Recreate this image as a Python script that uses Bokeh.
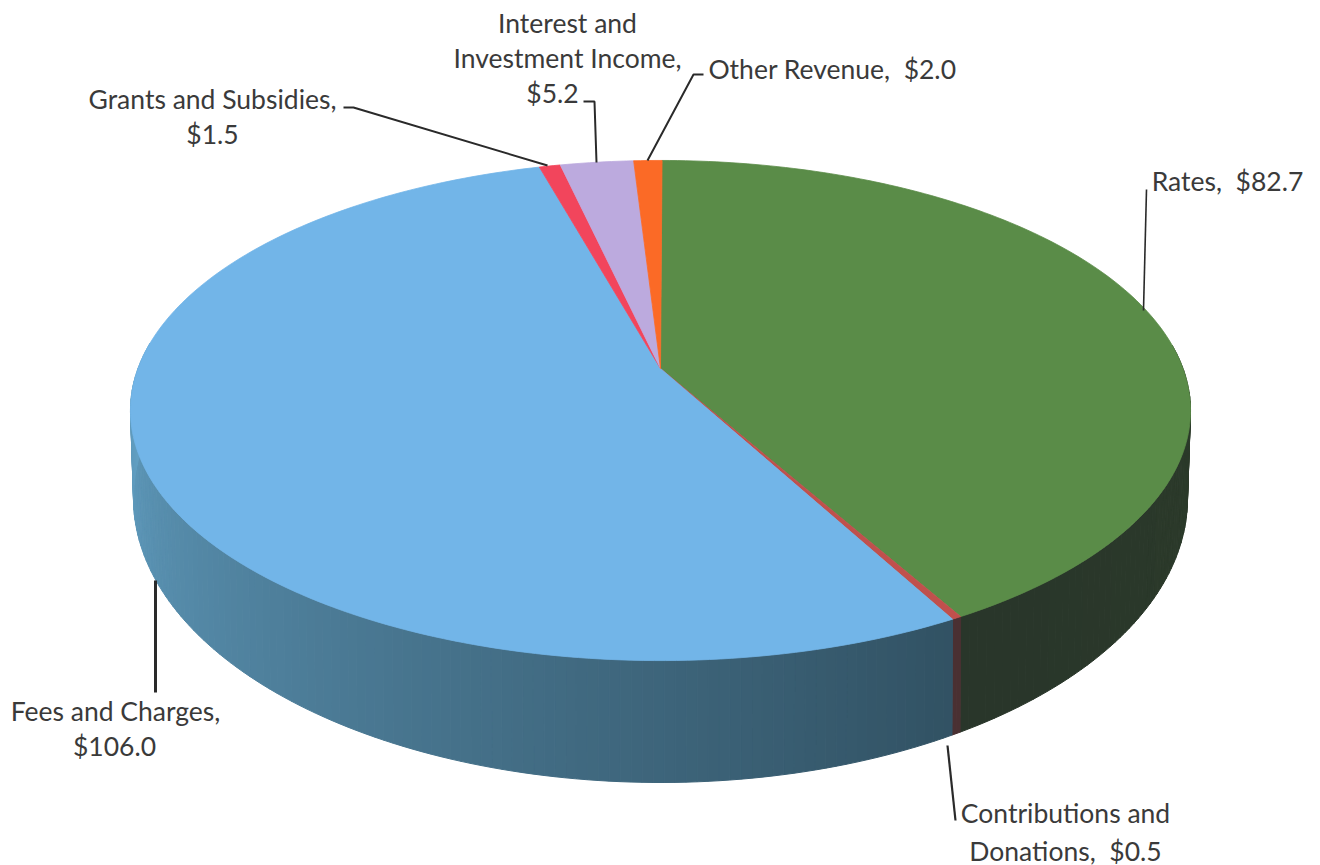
import numpy as np
from bokeh.embed import file_html
from bokeh.models import ColumnDataSource, Range1d
from bokeh.plotting import figure
from bokeh.resources import INLINE
from bokeh.core.properties import value

# Operating revenue by type, in millions, clockwise from twelve o'clock
categories = ["Rates", "Contributions and Donations", "Fees and Charges",
              "Grants and Subsidies", "Interest and Investment Income", "Other Revenue"]
amounts = [82.7, 0.5, 106.0, 1.5, 5.2, 2.0]
top_colours = ["#5a8c48", "#c0504d", "#72b5e8", "#f2455c", "#bcaade", "#fb6a26"]
side_light = ["#2d3c2b", "#5a3434", "#64a2c6", "#5a3434", "#5a3434", "#5a3434"]
side_dark = ["#29362a", "#4a3032", "#304f60", "#4a3032", "#4a3032", "#4a3032"]

W, H = 1320, 865
APEX_X, APEX_Y = 660.0, 368.0
KAPPA = 0.168
A_TOP, B_TOP = 522.5, 243.0
BOT_CX, BOT_CY, BOT_A, BOT_B = 660.0, 498.0, 527.0, 284.0
START_DEG = 0.2


def top_rim(deg, r=1.0):
    t = np.radians(deg)
    u, v = r * np.sin(t), r * np.cos(t)
    d = 1 + KAPPA * v
    return APEX_X + A_TOP * u / d, APEX_Y - B_TOP * v / d


def bottom_rim(deg):
    # same rim parameter as the top face, so side panels stay near-vertical
    x, y = top_rim(deg)
    phi = np.arctan2((x - BOT_CX) / BOT_A, -(y - 410.0) / 250.0)
    return BOT_CX + BOT_A * np.sin(phi), BOT_CY - BOT_B * np.cos(phi)


p = figure(width=W, height=H, output_backend="svg", toolbar_location=None,
           x_range=Range1d(0, W), y_range=Range1d(H, 0), min_border=0)
p.axis.visible = False
p.grid.visible = False
p.outline_line_color = None

fractions = np.array(amounts) / sum(amounts)
edges = START_DEG + np.concatenate([[0], np.cumsum(fractions) * 360])

# Outer wall: thin vertical strips along the front half of the rim
xs, ys, cols = [], [], []
for i in range(len(amounts)):
    a0, a1 = edges[i], edges[i + 1]
    n = max(2, int((a1 - a0) / 1.0))
    grid = np.linspace(a0, a1, n + 1)
    for g0, g1 in zip(grid[:-1], grid[1:]):
        mid = (g0 + g1) / 2
        if not 84 <= mid % 360 <= 276:
            continue
        tx, ty = top_rim(np.array([g0, g1]))
        bx, by = bottom_rim(np.array([g1, g0]))
        xs.append(list(tx) + list(bx))
        ys.append(list(ty) + list(by))
        # wall darkens from the left of the pie towards its lower right
        s = np.clip((272 - (mid % 360)) / 125, 0, 1) if i == 2 else np.clip((mid % 360 - 90) / 60, 0, 1)
        c0 = np.array([int(side_light[i][j:j + 2], 16) for j in (1, 3, 5)])
        c1 = np.array([int(side_dark[i][j:j + 2], 16) for j in (1, 3, 5)])
        c = (c0 * (1 - s) + c1 * s).astype(int)
        cols.append("#%02x%02x%02x" % tuple(c))
p.patches(xs, ys, fill_color=cols, line_color=cols, line_width=1)

# Top face of every slice
for i in range(len(amounts)):
    grid = np.linspace(edges[i], edges[i + 1], max(3, int(fractions[i] * 360) + 2))
    rx, ry = top_rim(grid)
    p.patch([APEX_X] + list(rx), [APEX_Y] + list(ry), fill_color=top_colours[i],
            line_color=top_colours[i], line_width=0.8)

# Leader lines from the labels to their slices
LEADER = "#2a2a2a"
leaders = [
    ([1146, 1143], [189, 310], 1.6),
    ([955, 947], [820, 745], 2.2),
    ([155, 155], [692, 580], 3.0),
    ([343, 353, 547], [107, 107, 165], 2.0),
    ([583, 594, 596], [101, 101, 162], 2.0),
    ([703, 693, 647], [74, 74, 160], 2.0),
]
for lx, ly, lw in leaders:
    p.line(lx, ly, line_color=LEADER, line_width=lw)

# Label text, one row per drawn line
NB = "\u00a0"
label_x = [1227, 1065, 115, 212, 567, 832, 567]
label_y = [180, 812, 710, 98, 22, 68, 57]
label_txt = ["Rates," + NB + " $82.7", "Contributions and", "Fees and Charges,", "Grants and Subsidies,",
             "Interest and", "Other Revenue," + NB + " $2.0", "Investment Income,"]
more_x = [1065, 114, 212, 552]
more_y = [850, 745, 133, 92]
more_txt = ["Donations," + NB + " $0.5", "$106.0", "$1.5", "$5.2"]
src = ColumnDataSource(dict(x=label_x + more_x, y=label_y + more_y, t=label_txt + more_txt))
p.text("x", "y", text="t", source=src, text_font=value("Lato"), text_font_size="26.5px",
       text_color="#3a3a3a", text_align="center", text_baseline="middle")

open("out.html", "w").write(file_html(p, INLINE))
